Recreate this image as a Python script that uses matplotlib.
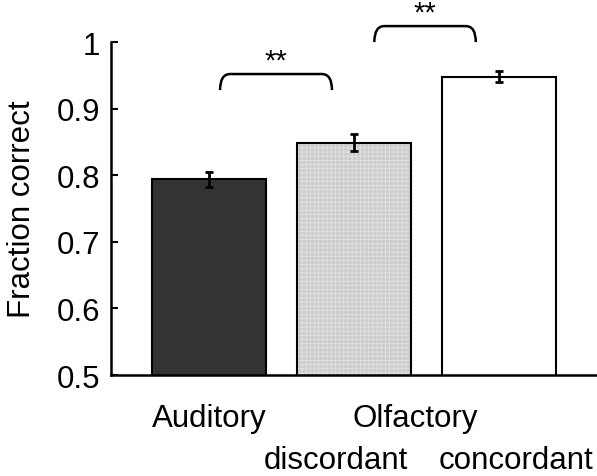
import matplotlib
matplotlib.use("Agg")
import matplotlib.pyplot as plt
from matplotlib.path import Path
from matplotlib.patches import PathPatch

plt.rcParams['font.family'] = ['Liberation Sans', 'DejaVu Sans']
plt.rcParams['hatch.linewidth'] = 0.6

conditions = ["Auditory", "Olfactory discordant", "Olfactory concordant"]
values = [0.794, 0.849, 0.948]
errors = [0.011, 0.013, 0.008]
colors = ["#333333", "#cccccc", "#ffffff"]
yticks = [0.5, 0.6, 0.7, 0.8, 0.9, 1.0]
ytick_labels = ["0.5", "0.6", "0.7", "0.8", "0.9", "1"]
signif = ["**", "**"]

FS = 22.5

fig = plt.figure(figsize=(5.97, 4.77), dpi=100)
ax = fig.add_axes([0.186, 0.2117, 0.814, 0.698])

x = [1, 2, 3]
ax.bar(x, values, width=0.79, color=colors, edgecolor="none", linewidth=0, zorder=2)
# fine texture on the grey bar
ax.bar(x[1], values[1], width=0.79, facecolor="none", edgecolor="#e2e2e2",
       hatch="++++", linewidth=0, zorder=2.2)
ax.bar(x, values, width=0.79, facecolor="none", edgecolor="black", linewidth=1.5, zorder=2.5)
ax.errorbar(x, values, yerr=errors, fmt="none", ecolor="black", elinewidth=2,
            capsize=3, capthick=2, zorder=3)

ax.set_xlim(0.324, 3.676)
ax.set_ylim(0.5, 1.0)
ax.set_yticks(yticks)
ax.set_yticklabels(ytick_labels, fontsize=FS)
ax.set_xticks(x)
ax.set_xticklabels([])
ax.tick_params(axis="both", direction="in", length=5, width=1.5)
ax.tick_params(axis="y", pad=8)
for s in ["top", "right"]:
    ax.spines[s].set_visible(False)
for s in ["left", "bottom"]:
    ax.spines[s].set_linewidth(1.8)

ax.set_ylabel("Fraction correct", fontsize=FS, labelpad=14)

tr = ax.get_xaxis_transform()
ax.text(1.0, -0.153, "Auditory", transform=tr, ha="center", va="baseline", fontsize=FS)
ax.text(2.42, -0.153, "Olfactory", transform=tr, ha="center", va="baseline", fontsize=FS)
ax.text(1.873, -0.279, "discordant", transform=tr, ha="center", va="baseline", fontsize=FS)
ax.text(3.12, -0.279, "concordant", transform=tr, ha="center", va="baseline", fontsize=FS)


def bracket(x0, x1, ybot, ytop, label, ystar):
    rx = 0.07
    verts = [(x0, ybot), (x0, ytop), (x0 + rx, ytop),
             (x1 - rx, ytop), (x1, ytop), (x1, ybot)]
    codes = [Path.MOVETO, Path.CURVE3, Path.CURVE3,
             Path.LINETO, Path.CURVE3, Path.CURVE3]
    ax.add_patch(PathPatch(Path(verts, codes), fill=False, lw=1.8,
                           edgecolor="black", clip_on=False))
    ax.text((x0 + x1) / 2, ystar, label, ha="center", va="center",
            fontsize=21, clip_on=False)


bracket(1.076, 1.848, 0.928, 0.952, signif[0], 0.972)
bracket(2.14, 2.84, 1.0, 1.024, signif[1], 1.044)

fig.savefig("out.png", dpi=100)
